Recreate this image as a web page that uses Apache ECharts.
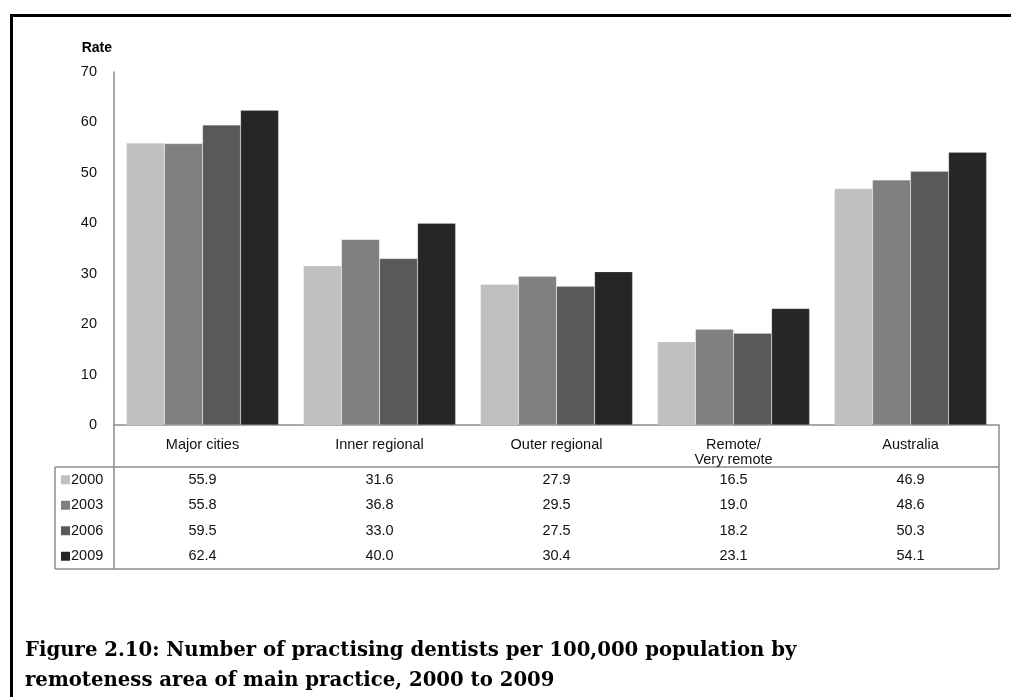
<!DOCTYPE html>
<html>
<head>
<meta charset="utf-8">
<script src="https://cdn.jsdelivr.net/npm/echarts@6/dist/echarts.min.js"></script>
<style>
  html, body { margin: 0; padding: 0; background: #fff; }
  #chart { width: 1011px; height: 697px; }
</style>
</head>
<body>
<div id="chart"></div>
<script>
// Practising dentists per 100,000 population, by remoteness area
const categories = ['Major cities', 'Inner regional', 'Outer regional', 'Remote/\nVery remote', 'Australia'];
const years = ['2000', '2003', '2006', '2009'];
const rate2000 = [55.9, 31.6, 27.9, 16.5, 46.9];
const rate2003 = [55.8, 36.8, 29.5, 19.0, 48.6];
const rate2006 = [59.5, 33.0, 27.5, 18.2, 50.3];
const rate2009 = [62.4, 40.0, 30.4, 23.1, 54.1];
const seriesValues = [rate2000, rate2003, rate2006, rate2009];
const yTicks = [0, 10, 20, 30, 40, 50, 60, 70];
const colors = ['#c0c0c0', '#808080', '#595959', '#262626'];

const captionLines = [
  'Figure 2.10: Number of practising dentists per 100,000 population by',
  'remoteness area of main practice, 2000 to 2009'
];

const GRID = { left: 114, right: 12, top: 72, bottom: 272 };
const W = 1011, H = 697;
const axisColor = '#8c8c8c';
const font = 'Arial, "Liberation Sans", sans-serif';
const fs = 14.5;

const chart = echarts.init(document.getElementById('chart'), null, { renderer: 'canvas' });

chart.setOption({
  animation: false,
  backgroundColor: '#ffffff',
  grid: GRID,
  xAxis: {
    type: 'category',
    data: categories,
    axisLine: { show: true, lineStyle: { color: axisColor, width: 1.5 } },
    axisTick: { show: false },
    axisLabel: {
      interval: 0, margin: 12, color: '#111', fontFamily: font, fontSize: fs,
      lineHeight: 15
    }
  },
  yAxis: {
    type: 'value',
    min: yTicks[0],
    max: yTicks[yTicks.length - 1],
    interval: 10,
    name: 'Rate',
    nameLocation: 'end',
    nameGap: 17,
    nameTextStyle: { color: '#000', fontFamily: font, fontSize: 14, fontWeight: 'bold', align: 'right', padding: [0, 2, 0, 0] },
    axisLine: { show: true, lineStyle: { color: axisColor, width: 1.5 } },
    axisTick: { show: false },
    splitLine: { show: false },
    axisLabel: { color: '#111', fontFamily: font, fontSize: fs, margin: 17 }
  },
  series: years.map((y, i) => ({
    name: y,
    type: 'bar',
    data: seriesValues[i],
    barGap: '0%',
    barCategoryGap: '14%',
    itemStyle: { color: colors[i], borderColor: 'rgba(255,255,255,0.35)', borderWidth: 0.5 }
  }))
});

// Data table under the plot, plus frame and caption
function buildOverlay() {
  const x0 = GRID.left;
  const x1 = W - GRID.right;
  const yAxisBottom = H - GRID.bottom;
  const headerBottom = yAxisBottom + 42;
  const rowH = 25.5;
  const tableBottom = headerBottom + rowH * years.length;
  const tableLeft = 55;
  const line = (x1_, y1_, x2_, y2_, c, w) => ({
    type: 'line', silent: true,
    shape: { x1: x1_, y1: y1_, x2: x2_, y2: y2_ },
    style: { stroke: c, lineWidth: w }
  });
  const els = [];
  // frame
  els.push(line(10, 15.5, W, 15.5, '#000', 3));
  els.push(line(11.5, 14, 11.5, H, '#000', 3));
  // table grid
  els.push(line(x0, yAxisBottom, x0, tableBottom, axisColor, 1.5));
  els.push(line(tableLeft, headerBottom, x1, headerBottom, axisColor, 1.5));
  els.push(line(tableLeft, tableBottom, x1, tableBottom, axisColor, 1.5));
  els.push(line(tableLeft, headerBottom, tableLeft, tableBottom, axisColor, 1.5));
  els.push(line(x1, yAxisBottom, x1, tableBottom, axisColor, 1.5));

  years.forEach((yr, r) => {
    const cy = headerBottom + rowH * (r + 0.5);
    els.push({
      type: 'rect', silent: true,
      shape: { x: 61, y: cy - 4.5, width: 9, height: 9 },
      style: { fill: colors[r] }
    });
    els.push({
      type: 'text', silent: true,
      style: { x: 71, y: cy, text: yr, fill: '#111', font: fs + 'px ' + font, textVerticalAlign: 'middle', verticalAlign: 'middle' }
    });
    categories.forEach((c, k) => {
      const cx = chart.convertToPixel({ xAxisIndex: 0 }, c);
      els.push({
        type: 'text', silent: true,
        style: {
          x: cx, y: cy, text: seriesValues[r][k].toFixed(1), fill: '#111',
          font: fs + 'px ' + font, align: 'center', textAlign: 'center',
          verticalAlign: 'middle', textVerticalAlign: 'middle'
        }
      });
    });
  });

  captionLines.forEach((t, i) => {
    els.push({
      type: 'text', silent: true,
      style: {
        x: 25, y: 651 + i * 30, text: t, fill: '#000',
        font: 'bold 19.7px "DejaVu Serif", "Liberation Serif", serif',
        verticalAlign: 'middle', textVerticalAlign: 'middle'
      }
    });
  });
  chart.setOption({ graphic: { elements: els } });
}
buildOverlay();
</script>
</body>
</html>
